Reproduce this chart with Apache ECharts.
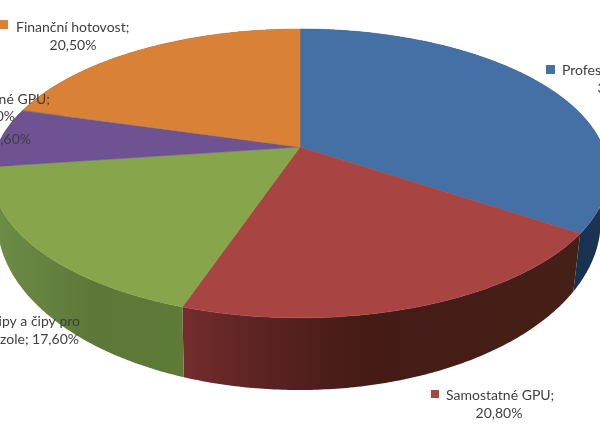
<!DOCTYPE html>
<html>
<head>
<meta charset="utf-8">
<style>html,body{margin:0;padding:0;background:#fff}#chart{width:600px;height:424px}</style>
<script src="https://cdn.jsdelivr.net/npm/echarts@6/dist/echarts.min.js"></script>
</head>
<body>
<div id="chart"></div>
<script>
// clockwise from 12 o'clock, same order as the source chart
var categories = ['Profesionální GPU', 'Samostatné GPU', 'Čipy a čipy pro konzole', 'Čipsety', 'Integrované GPU', 'Finanční hotovost']
var values = [34.4, 20.8, 17.6, 6.6, 0.1, 20.5]
var topColors = ['#4470a6', '#a84442', '#87a54b', '#6e5292', '#7d7d7d', '#da8138']

// perspective disc: x' = d*u/(1+c*v), y' = a*v/(1+c*v)
var topDisc = { cx: 300, cy: 147, d: 303, a: 139.6, c: -0.183 }
var baseDisc = { cx: 299, cy: 190.5, d: 296.6, a: 163, c: -0.183 }

var total = values.reduce(function (s, v) { return s + v }, 0)
function startAngle (i) {
  var s = 0
  for (var k = 0; k < i; k++) s += values[k]
  return s / total * Math.PI * 2
}
function project (disc, t) {
  var u = Math.sin(t)
  var v = -Math.cos(t)
  var w = 1 + disc.c * v
  return [disc.cx + disc.d * u / w, disc.cy + disc.a * v / w]
}
function arc (disc, t1, t2) {
  var pts = []
  var n = Math.max(2, Math.ceil((t2 - t1) / 0.01))
  for (var i = 0; i <= n; i++) pts.push(project(disc, t1 + (t2 - t1) * i / n))
  return pts
}
function pct (v) {
  return v.toFixed(2).replace('.', ',') + '%'
}
function wallFill (i) {
  var stops = {
    0: [[0, '#1a3453'], [1, '#172f4e']],
    1: [[0, '#452016'], [0.55, '#451a17'], [0.8, '#5b2323'], [1, '#722c2c']],
    2: [[0, '#5f7b37'], [0.5, '#5d7738'], [1, '#6c8c45']]
  }[i] || [[0, '#444'], [1, '#444']]
  // horizontal shading runs over the whole wall, left to right for red and green
  var box = i === 1 ? [570, 187] : i === 2 ? [187, 0] : [600, 560]
  return new echarts.graphic.LinearGradient(box[0], 0, box[1], 0, stops.map(function (s) {
    return { offset: s[0], color: s[1] }
  }), true)
}

function renderWall (params) {
  var i = params.dataIndex
  var t1 = startAngle(i)
  var t2 = startAngle(i + 1)
  return {
    type: 'polygon',
    shape: { points: arc(topDisc, t1, t2).concat(arc(baseDisc, t1, t2).reverse()) },
    style: { fill: wallFill(i) }
  }
}
function renderTop (params) {
  var i = params.dataIndex
  var apex = [topDisc.cx, topDisc.cy]
  return {
    type: 'polygon',
    shape: { points: [apex].concat(arc(topDisc, startAngle(i), startAngle(i + 1))) },
    style: { fill: topColors[i], stroke: topColors[i], lineWidth: 0.5 }
  }
}

function label (text, x, y, align) {
  return {
    type: 'text',
    x: x,
    y: y,
    z: 10,
    style: { text: text, align: align, verticalAlign: 'middle', fill: '#3f3f3f', font: '14px Lato' }
  }
}
function swatch (i, x, y, size) {
  return {
    type: 'rect',
    z: 10,
    shape: { x: x, y: y, width: size, height: size },
    style: { fill: topColors[i] }
  }
}

var chart = echarts.init(document.getElementById('chart'), null, { renderer: 'canvas' })
chart.setOption({
  backgroundColor: '#fff',
  animation: false,
  series: [
    { type: 'custom', coordinateSystem: 'none', z: 1, data: values, renderItem: renderWall, silent: true },
    { type: 'custom', coordinateSystem: 'none', z: 2, data: values, renderItem: renderTop, silent: true }
  ],
  graphic: [
    swatch(5, -1, 20, 9),
    label(categories[5] + ';', 16, 27, 'left'),
    label(pct(values[5]), 73, 45, 'center'),
    swatch(0, 546, 65, 9),
    label(categories[0] + ';', 562, 70, 'left'),
    label(pct(values[0]), 621, 88, 'center'),
    swatch(1, 431, 390, 8),
    label(categories[1] + ';', 446, 395, 'left'),
    label(pct(values[1]), 499, 413, 'center'),
    label(categories[4] + ';', 50, 99, 'right'),
    label(pct(values[4]), 15, 116, 'right'),
    label(pct(values[3]), 31, 139, 'right'),
    label('Čipy a čipy pro', 80, 321, 'right'),
    label('konzole; ' + pct(values[2]), 79, 339, 'right')
  ]
})
</script>
</body>
</html>
